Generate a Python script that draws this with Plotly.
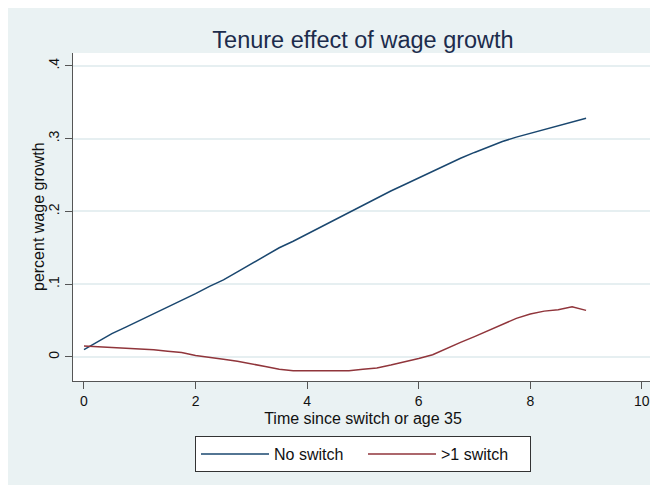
import plotly.graph_objects as go

# ---- data ----
time = [0.0, 0.25, 0.5, 0.75, 1.0, 1.25, 1.5, 1.75, 2.0, 2.25, 2.5, 2.75, 3.0,
        3.25, 3.5, 3.75, 4.0, 4.25, 4.5, 4.75, 5.0, 5.25, 5.5, 5.75, 6.0,
        6.25, 6.5, 6.75, 7.0, 7.25, 7.5, 7.75, 8.0, 8.25, 8.5, 8.75, 9.0]

no_switch = [0.010, 0.021, 0.032, 0.041, 0.050, 0.059, 0.068, 0.077, 0.087,
             0.097, 0.106, 0.117, 0.128, 0.138, 0.150, 0.159, 0.169, 0.179,
             0.189, 0.199, 0.208, 0.218, 0.228, 0.237, 0.246, 0.256, 0.264,
             0.273, 0.281, 0.289, 0.296, 0.302, 0.307, 0.313, 0.317, 0.322,
             0.328]

multi_switch = [0.015, 0.014, 0.013, 0.013, 0.012, 0.010, 0.008, 0.006, 0.002,
                0.000, -0.003, -0.006, -0.009, -0.013, -0.017, -0.019, -0.019,
                -0.019, -0.020, -0.019, -0.017, -0.015, -0.011, -0.007, -0.002,
                0.003, 0.012, 0.020, 0.028, 0.036, 0.045, 0.053, 0.059, 0.063,
                0.065, 0.069, 0.064]

series_names = ["No switch", ">1 switch"]
x_ticks = [0, 2, 4, 6, 8, 10]
y_ticks = [0, 0.1, 0.2, 0.3, 0.4]
y_tick_labels = ["0", ".1", ".2", ".3", ".4"]

# ---- layout geometry (figure pixels; page body adds an 8px offset) ----
W, H = 658, 485
PL, PR, PT, PB = 65, 645, 45, 373


def px_x(p):
    return (p - PL) / (PR - PL)


def px_y(p):
    return (PB - p) / (PB - PT)


BG = "#EAF2F3"
AXIS = "#555555"
TXT = "#111111"

fig = go.Figure()
fig.add_trace(go.Scatter(x=time, y=no_switch, mode="lines", name=series_names[0],
                         line=dict(color="#1a476f", width=1.5)))
fig.add_trace(go.Scatter(x=time, y=multi_switch, mode="lines", name=series_names[1],
                         line=dict(color="#90353b", width=1.5)))

fig.update_layout(
    width=W, height=H, autosize=False,
    margin=dict(l=PL, r=W - PR, t=PT, b=H - PB, pad=0, autoexpand=False),
    paper_bgcolor=BG, plot_bgcolor="white",
    font=dict(family="Liberation Sans, Arial, sans-serif", color=TXT),
    title=dict(text="Tenure effect of wage growth", x=0.5, xref="paper",
               xanchor="center", y=1 - 32 / H, yref="container", yanchor="middle",
               font=dict(size=23.5, color="#1c2c4c")),
    xaxis=dict(range=[-0.197, 10.2], tickvals=x_ticks, showgrid=False,
               zeroline=False, showline=True, linecolor=AXIS, linewidth=1.3,
               ticks="outside", ticklen=7, tickwidth=1.3, tickcolor=AXIS,
               tickfont=dict(size=14, color=TXT),
               title=dict(text="Time since switch or age 35",
                          font=dict(size=16, color=TXT), standoff=4)),
    yaxis=dict(range=[-0.033, 0.4176], tickvals=y_ticks, ticktext=y_tick_labels,
               tickangle=-90, showgrid=True, gridcolor="#E6EFF1", gridwidth=1.5,
               zeroline=False, showline=True, linecolor=AXIS, linewidth=1.3,
               ticks="outside", ticklen=7, tickwidth=1.3, tickcolor=AXIS,
               tickfont=dict(size=14, color=TXT)),
    annotations=[
        dict(text="percent wage growth", textangle=-90, xref="paper", yref="paper",
             x=px_x(30), y=0.5, xanchor="center", yanchor="middle",
             showarrow=False, font=dict(size=16, color=TXT)),
    ],
    legend=dict(orientation="h", x=px_x(187), xanchor="left",
                y=px_y(428), yanchor="top", bgcolor="white",
                bordercolor="#333333", borderwidth=1,
                font=dict(size=16, color=TXT), itemwidth=68,
                entrywidth=84, entrywidthmode="pixels"),
)

fig.write_html("out.html")
